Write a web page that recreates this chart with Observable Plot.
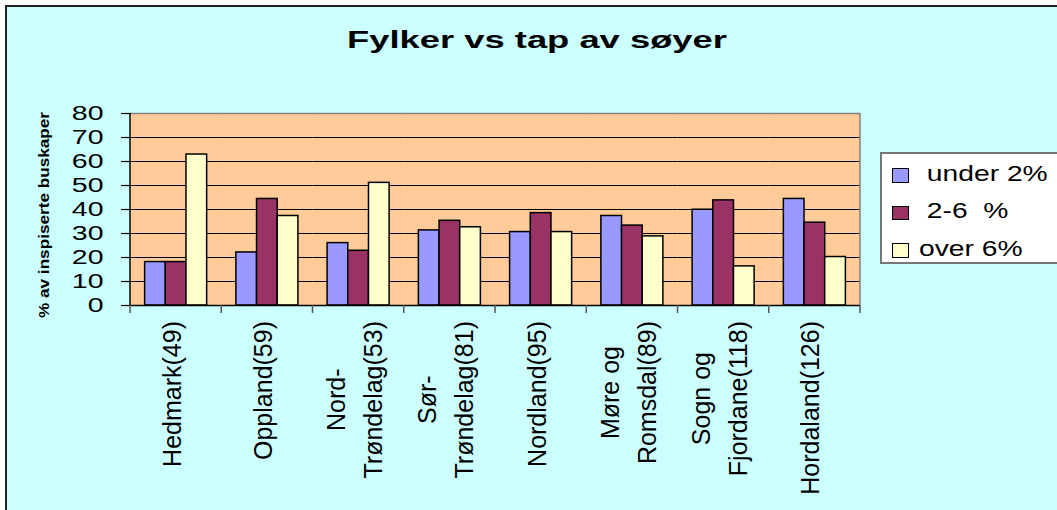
<!DOCTYPE html>
<html><head><meta charset="utf-8">
<script src="https://cdn.jsdelivr.net/npm/d3@7"></script>
<script src="https://cdn.jsdelivr.net/npm/@observablehq/plot@0.6"></script>
<style>
body{margin:0;background:#fff;}
#wrap{position:relative;width:1057px;height:510px;overflow:hidden;background:#fff;font-family:"Liberation Sans",Arial,sans-serif;color:#000;}
#bg{position:absolute;left:5px;top:5px;width:1100px;height:600px;background:#CCFFFF;border-top:2px solid #222;border-left:2px solid #222;}
#plot{position:absolute;left:0;top:0;}
.t{position:absolute;white-space:pre;line-height:1;}
</style></head><body>
<div id="wrap"><div id="bg"></div><div id="plot"></div></div>
<script>
const categories = ["Hedmark(49)","Oppland(59)","Nord-\nTrøndelag(53)","Sør-\nTrøndelag(81)","Nordland(95)","Møre og\nRomsdal(89)","Sogn og\nFjordane(118)","Hordaland(126)"];
const series = ["under 2%","2-6  %","over 6%"];
const under2 = [18.1,22.1,26.0,31.3,30.6,37.3,39.9,44.4];
const mid26 = [18.1,44.4,22.8,35.3,38.5,33.3,43.8,34.5];
const over6 = [62.9,37.3,51.1,32.6,30.6,28.8,16.3,20.2];
const yTicks = [0,10,20,30,40,50,60,70,80];
const colors = ["#9999FF","#993366","#FFFFCC"];
const legendLabels = [" under 2%"," 2-6  %","over 6%"];
const title = "Fylker vs tap av søyer";
const yLabel = "% av inspiserte buskaper";

const values = [under2, mid26, over6];
const data = categories.flatMap((c,i)=>series.map((s,j)=>({county:c, series:s, value:values[j][i]})));

const plot = Plot.plot({
  width:1057, height:510,
  marginLeft:130, marginRight:197, marginTop:113, marginBottom:205,
  style:{background:"transparent", fontFamily:"'Liberation Sans', Arial, sans-serif", overflow:"visible", color:"#000"},
  fx:{domain:categories, padding:0, round:false, axis:null, label:null},
  x:{domain:series, paddingInner:0, paddingOuter:0.707, round:false, axis:null, label:null},
  y:{domain:[0,80], label:null, axis:null},
  color:{domain:series, range:colors},
  marks:[
    Plot.ruleY(yTicks.filter(v=>v>0 && v<80), {stroke:"#000", strokeWidth:1}),
    Plot.ruleY([80], {stroke:"#808080", strokeWidth:1.5}),
    Plot.barY(data,{fx:"county", x:"series", y:"value", fill:"series", stroke:"#000", strokeWidth:1.5}),
    Plot.ruleY([0], {stroke:"#000", strokeWidth:1.5}),
    Plot.axisY({ticks:yTicks, tickSize:9, tickPadding:18, fontSize:20.5, tickFormat:d=>String(d), label:null, strokeWidth:1.2})
  ]
});
document.getElementById("plot").appendChild(plot);

const svg = d3.select(plot);
const fxs = plot.scale("fx"), ys = plot.scale("y");
const [x0, x1] = fxs.range;
const y0 = ys.apply(0), yTop = ys.apply(80);
svg.insert("rect", ":first-child")
  .attr("x", x0).attr("y", yTop).attr("width", x1 - x0).attr("height", y0 - yTop)
  .attr("fill", "#FFCC99");
svg.insert("rect", ":first-child").attr("width",0).attr("height",0);
svg.append("line").attr("x1", x1).attr("x2", x1).attr("y1", yTop).attr("y2", y0)
  .attr("stroke", "#808080").attr("stroke-width", 1.5);
svg.append("line").attr("x1", x0).attr("x2", x0).attr("y1", yTop).attr("y2", y0)
  .attr("stroke", "#000").attr("stroke-width", 1.5);
const bounds = categories.map(c => fxs.apply(c)).concat([x1]);
svg.append("g").selectAll("line").data(bounds).join("line")
  .attr("x1", d=>d).attr("x2", d=>d).attr("y1", y0).attr("y2", y0 + 8)
  .attr("stroke", "#555").attr("stroke-width", 1.5);

// horizontally stretched y tick labels (as in the reference)
plot.querySelectorAll('g[aria-label="y-axis tick label"] text').forEach(t => {
  const b = t.getBBox();
  const r = b.x + b.width;
  const tr = t.getAttribute("transform") || "";
  t.setAttribute("transform", `${tr} translate(${r},0) scale(1.39,1) translate(${-r},0)`);
});

const wrap = document.getElementById("wrap");
function addText(txt, css){
  const d = document.createElement("div");
  d.className = "t"; d.textContent = txt;
  Object.assign(d.style, css);
  wrap.appendChild(d);
  return d;
}
// title
addText(title, {left:"536.7px", top:(48.3 - 0.8465*23.3)+"px", fontSize:"23.3px", fontWeight:"bold",
  transform:"translateX(-50%) scaleX(1.56)"});
// y label
addText(yLabel, {left:"44px", top:"215px", fontSize:"15.5px", fontWeight:"bold",
  transform:"translate(-50%,-50%) rotate(-90deg) scaleX(1.107)"});
// x labels
categories.forEach(c => {
  const cx = fxs.apply(c) + fxs.bandwidth/2 - 4;
  addText(c, {left:cx+"px", top:"321px", fontSize:"25px", lineHeight:"36.5px", textAlign:"center",
    transformOrigin:"0 0", transform:"rotate(-90deg) translate(-100%,-50%)"});
});
// legend
const box = document.createElement("div");
Object.assign(box.style, {position:"absolute", left:"880px", top:"152px", width:"200px", height:"112px",
  background:"#fff", border:"2px solid #777", boxSizing:"border-box"});
wrap.appendChild(box);
series.forEach((s,i) => {
  const sw = document.createElement("div");
  Object.assign(sw.style, {position:"absolute", left:"892px", top:(168 + i*37.6)+"px", width:"17px", height:"14.5px",
    background:colors[i], border:"1.5px solid #000", boxSizing:"border-box"});
  wrap.appendChild(sw);
  addText(legendLabels[i], {left:"919.3px", top:(182 + i*37.4 - 0.8465*21.4)+"px", fontSize:"21.4px",
    transformOrigin:"0 50%", transform:"scaleX(1.32)"});
});
</script>
</body></html>
